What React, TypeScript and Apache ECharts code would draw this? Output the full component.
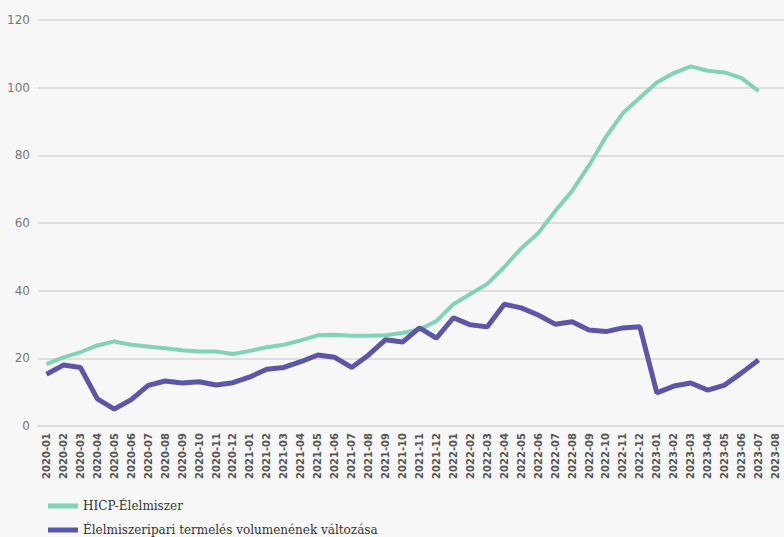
import React, { useEffect, useRef } from "react";
import * as echarts from "echarts";

const months: string[] = [
  "2020-01","2020-02","2020-03","2020-04","2020-05","2020-06","2020-07","2020-08","2020-09","2020-10","2020-11","2020-12",
  "2021-01","2021-02","2021-03","2021-04","2021-05","2021-06","2021-07","2021-08","2021-09","2021-10","2021-11","2021-12",
  "2022-01","2022-02","2022-03","2022-04","2022-05","2022-06","2022-07","2022-08","2022-09","2022-10","2022-11","2022-12",
  "2023-01","2023-02","2023-03","2023-04","2023-05","2023-06","2023-07","2023-08",
];

const hicpName = "HICP-Élelmiszer";
const hicp: (number | null)[] = [
  18.3, 20.3, 21.8, 23.8, 25.0, 24.0, 23.5, 23.0, 22.4, 22.0, 22.0, 21.3,
  22.2, 23.3, 24.0, 25.3, 26.8, 27.0, 26.7, 26.7, 26.8, 27.5, 28.5, 31.0,
  36.0, 39.0, 42.0, 47.0, 52.5, 57.0, 63.5, 69.5, 77.0, 85.5, 92.5, 97.0,
  101.5, 104.3, 106.3, 105.0, 104.5, 102.8, 99.0, null,
];

const volName = "Élelmiszeripari termelés volumenének változása";
const volume: (number | null)[] = [
  15.3, 18.0, 17.3, 8.0, 5.0, 7.8, 12.0, 13.3, 12.7, 13.1, 12.1, 12.8,
  14.5, 16.8, 17.3, 19.0, 21.0, 20.3, 17.3, 21.0, 25.5, 24.8, 29.0, 26.0,
  32.0, 29.9, 29.3, 36.0, 34.9, 32.8, 30.1, 30.8, 28.4, 27.9, 29.0, 29.3,
  9.8, 11.8, 12.7, 10.6, 12.1, 15.7, 19.5, null,
];

const yTicks = { min: 0, max: 120, interval: 20 };

const legendBase = {
  left: 43,
  itemWidth: 30,
  itemHeight: 5,
  icon: "rect",
  textStyle: { fontFamily: "DejaVu Serif", fontSize: 12, color: "#333" },
};

export default function App() {
  const ref = useRef<HTMLDivElement>(null);
  useEffect(() => {
    if (!ref.current) return;
    const chart = echarts.init(ref.current, undefined, { renderer: "svg" });
    chart.setOption({
      animation: false,
      backgroundColor: "#f7f7f7",
      grid: { left: 38, right: -4, top: 20, bottom: 111 },
      legend: [
        { ...legendBase, top: 495, data: [hicpName] },
        { ...legendBase, top: 519, data: [volName] },
      ],
      xAxis: {
        type: "category",
        data: months,
        boundaryGap: true,
        axisLine: { show: true, lineStyle: { color: "#dcdcdc", width: 2 } },
        axisTick: { show: false },
        axisLabel: {
          rotate: 90,
          interval: 0,
          margin: 7,
          fontFamily: "DejaVu Sans",
          fontSize: 10,
          fontWeight: "bold",
          color: "#555",
        },
        splitLine: { show: false },
      },
      yAxis: {
        type: "value",
        min: yTicks.min,
        max: yTicks.max,
        interval: yTicks.interval,
        axisLine: { show: false },
        axisTick: { show: false },
        axisLabel: { fontFamily: "DejaVu Sans", fontSize: 12, color: "#777", margin: 8 },
        splitLine: { lineStyle: { color: "#dedede", width: 2 } },
      },
      series: [
        {
          name: hicpName,
          type: "line",
          data: hicp,
          symbol: "none",
          lineStyle: { color: "#82d3b5", width: 4 },
          itemStyle: { color: "#82d3b5" },
        },
        {
          name: volName,
          type: "line",
          data: volume,
          symbol: "none",
          lineStyle: { color: "#5c56a8", width: 5 },
          itemStyle: { color: "#5c56a8" },
        },
      ],
    });
    return () => chart.dispose();
  }, []);
  return (
    <div
      ref={ref}
      style={{ position: "absolute", left: 0, top: 0, width: 784, height: 537 }}
    />
  );
}
